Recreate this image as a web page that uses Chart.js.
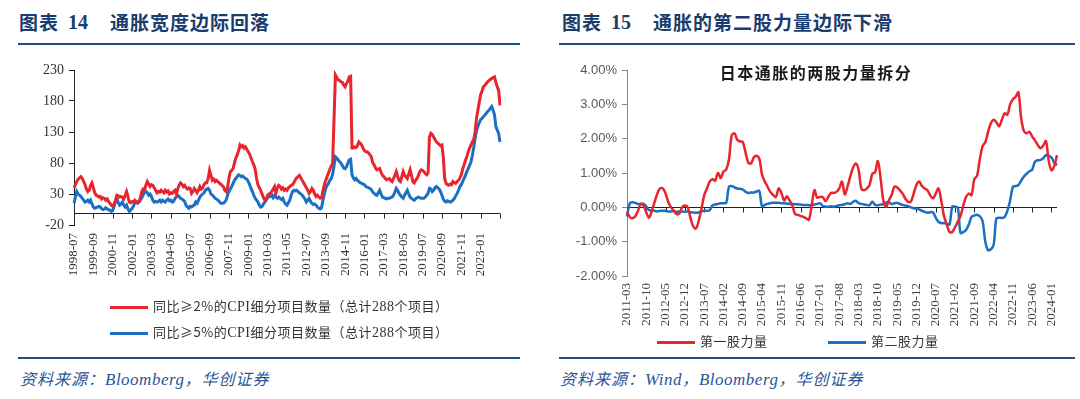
<!DOCTYPE html>
<html><head><meta charset="utf-8">
<script src="https://cdn.jsdelivr.net/npm/chart.js@4.4.1/dist/chart.umd.min.js"></script>
<style>
html,body{margin:0;padding:0;background:#fff;}
body{width:1080px;height:399px;position:relative;overflow:hidden;font-family:"Noto Sans CJK SC",sans-serif;}
.t{position:absolute;top:9px;font-size:19px;font-weight:bold;color:#1a3c6e;letter-spacing:1px;white-space:nowrap;line-height:26px;}
.t.num{font-family:"Liberation Serif",serif;font-size:20px;letter-spacing:0;}
.rule{position:absolute;height:2px;background:#1f4e89;}
.src{position:absolute;top:367px;font-size:16px;font-style:italic;color:#2a5599;white-space:nowrap;line-height:22px;letter-spacing:1px;}
.src .lat{font-family:"Liberation Serif",serif;font-size:17px;letter-spacing:0.5px;}
.leg{position:absolute;font-size:13px;color:#333;white-space:nowrap;line-height:16px;letter-spacing:0.5px;}
.leg i{display:inline-block;width:38px;height:3px;vertical-align:middle;margin-right:5px;}
.leg .lat{font-family:"Liberation Serif",serif;font-size:14px;}
.ctitle{position:absolute;left:640px;width:352px;text-align:center;top:61px;font-size:16px;font-weight:bold;color:#1a1a1a;letter-spacing:1.5px;line-height:22px;}
canvas{position:absolute;}
</style></head>
<body>
<div class="t" style="left:19px">图表</div>
<div class="t num" style="left:68px">14</div>
<div class="t" style="left:110px">通胀宽度边际回落</div>
<div class="rule" style="left:18px;width:502px;top:43px"></div>

<div class="t" style="left:562px">图表</div>
<div class="t num" style="left:611px">15</div>
<div class="t" style="left:653px">通胀的第二股力量边际下滑</div>
<div class="rule" style="left:559px;width:516px;top:43px"></div>

<canvas id="c1" width="530" height="250" style="left:0;top:50px;width:530px;height:250px"></canvas>
<canvas id="c2" width="540" height="290" style="left:540px;top:50px;width:540px;height:290px"></canvas>

<div class="ctitle">日本通胀的两股力量拆分</div>

<div class="leg" style="left:110px;top:298px"><i style="background:#e8242c"></i>同比≥2%的<span class="lat">CPI</span>细分项目数量（总计<span class="lat">288</span>个项目）</div>
<div class="leg" style="left:110px;top:324px"><i style="background:#1b6fc4"></i>同比≥5%的<span class="lat">CPI</span>细分项目数量（总计<span class="lat">288</span>个项目）</div>

<div class="leg" style="left:657px;top:333px"><i style="background:#e8242c"></i>第一股力量</div>
<div class="leg" style="left:828px;top:333px"><i style="background:#1b6fc4"></i>第二股力量</div>

<div class="rule" style="left:18px;width:502px;top:357px"></div>
<div class="rule" style="left:559px;width:516px;top:357px"></div>

<div class="src" style="left:20px">资料来源：<span class="lat">Bloomberg</span>，华创证券</div>
<div class="src" style="left:560px">资料来源：<span class="lat">Wind</span>，<span class="lat">Bloomberg</span>，华创证券</div>

<script>
// ---------- Chart 14 data (monthly, 1998-07 .. 2024-03) ----------
const leftStart = [1998, 7];
const leftCount = 309;
const leftLabelStep = 14;
const countAbove2 = [
40,45,50,54,56,58,55,50,45,38,34,36,
44,48,40,32,28,27,25,26,22,24,23,20,
22,18,15,12,10,14,20,28,27,25,26,24,
22,28,34,26,17,16,18,17,20,18,16,18,
24,34,38,36,44,50,46,42,45,44,40,36,
32,34,33,36,34,32,36,33,35,30,32,31,
34,36,30,38,44,48,46,42,44,40,38,40,
39,31,34,39,36,32,36,42,38,40,45,48,
48,55,68,60,52,54,50,52,50,48,46,44,
42,36,34,40,55,66,68,71,80,88,93,100,
109,106,108,104,106,102,98,94,88,82,77,70,
55,45,40,36,30,24,20,22,28,30,32,34,
38,42,32,40,44,42,38,40,36,38,36,40,
42,44,45,48,53,56,58,60,56,52,48,44,
40,36,31,34,39,36,30,26,28,25,23,24,
35,45,52,58,64,70,75,80,150,222,218,214,
213,211,210,206,203,208,212,219,220,104,104,106,
105,108,114,112,109,104,100,98,98,96,93,90,
80,77,72,69,70,71,65,60,58,55,53,54,
55,52,50,55,60,66,58,52,50,58,66,60,
58,55,62,69,60,50,48,52,55,60,66,69,
68,66,63,61,64,122,128,126,122,118,114,112,
110,108,109,90,55,47,45,44,46,45,50,48,
47,50,52,56,61,70,77,84,90,98,104,109,
114,118,130,152,165,178,190,196,203,205,208,211,
213,215,216,218,219,210,203,197,173];
const countAbove5 = [
15,25,34,30,28,26,23,20,17,18,20,17,
20,14,9,7,8,9,10,9,6,5,6,8,
6,4,4,2,3,10,18,23,16,12,14,17,
12,9,12,6,2,4,7,10,17,17,15,17,
20,24,28,34,34,32,28,30,26,20,17,18,
17,18,20,17,20,18,17,20,22,19,20,17,
18,23,25,28,26,23,22,20,18,12,9,7,
10,9,11,12,17,15,20,25,28,30,32,36,
38,39,36,30,28,26,23,22,20,18,15,15,
15,17,20,28,34,38,42,47,52,55,58,61,
60,58,59,57,55,54,50,45,39,34,28,23,
20,17,12,9,10,14,17,20,24,28,26,28,
24,28,25,23,25,23,21,23,17,14,12,16,
20,28,34,36,35,36,34,32,30,28,25,22,
17,20,23,18,15,13,14,12,9,7,6,8,
20,30,39,44,47,52,55,62,75,90,88,85,
82,80,76,72,71,74,80,85,86,61,56,53,
55,52,50,48,47,46,45,42,41,40,39,37,
33,31,29,28,32,36,30,25,24,23,22,23,
23,24,25,28,33,39,36,31,28,25,23,28,
32,36,30,25,23,21,20,22,24,25,24,23,
23,23,25,28,31,39,38,34,36,40,42,40,
38,34,28,22,18,17,19,18,17,18,20,23,
27,31,36,42,45,50,55,60,66,71,76,82,
92,105,120,132,139,145,150,152,155,157,160,163,
165,168,171,165,158,139,133,128,114];
const leftYTicks = {min:-20, max:230, step:50};

// ---------- Chart 15 data (monthly, 2011-03 .. 2024-03, %) ----------
const rightStart = [2011, 3];
const rightCount = 157;
const rightLabelStep = 7;
const firstForce = [
-0.13,-0.28,-0.32,-0.26,-0.1,0.1,0.05,-0.15,-0.3,-0.1,
0.15,0.4,0.55,0.55,0.4,0.15,0.0,-0.1,-0.2,-0.18,
0.0,0.05,0.0,-0.3,-0.55,-0.62,-0.4,-0.05,0.35,0.55,
0.75,0.82,0.78,1.0,0.85,1.04,1.1,1.4,2.1,2.15,
1.97,1.92,1.9,1.6,1.3,1.28,1.45,1.5,1.42,0.95,
0.75,0.6,0.45,0.36,0.3,0.55,0.42,0.2,0.32,0.2,
0.05,-0.2,-0.22,-0.25,-0.28,-0.32,-0.36,0.05,0.5,0.28,
0.3,0.3,0.18,0.3,0.42,0.42,0.45,0.55,0.75,0.38,
0.6,0.9,1.15,1.28,1.1,0.55,0.5,0.55,0.65,0.98,
1.02,1.35,0.85,0.2,0.02,0.2,0.36,0.6,0.58,0.5,
0.4,0.25,0.16,0.17,0.4,0.65,0.75,0.62,0.55,0.5,
0.35,0.26,0.4,0.55,0.2,-0.25,-0.5,-0.72,-0.72,-0.58,
-0.42,-0.25,0.05,0.3,0.4,0.36,0.82,0.92,1.4,1.78,
1.9,2.2,2.45,2.55,2.48,2.36,2.55,2.74,2.7,3.0,
3.15,3.22,3.35,2.6,2.22,2.16,2.2,2.06,1.95,1.82,
1.72,1.8,1.93,1.35,1.08,1.2,1.52];
const secondForce = [
-0.27,0.12,0.15,0.13,0.1,0.1,0.1,0.02,-0.08,-0.08,
-0.1,-0.12,-0.1,-0.1,-0.1,-0.12,-0.12,-0.11,-0.13,-0.12,
-0.12,-0.13,-0.12,-0.14,-0.15,-0.16,-0.15,-0.12,-0.1,-0.1,
-0.08,0.06,0.08,0.1,0.12,0.12,0.13,0.6,0.62,0.58,
0.55,0.54,0.52,0.45,0.42,0.43,0.43,0.46,0.48,0.02,
0.07,0.1,0.12,0.13,0.13,0.13,0.12,0.12,0.11,0.1,
0.1,0.09,0.09,0.08,0.07,0.07,0.06,0.07,0.08,0.1,
0.12,0.04,0.02,0.02,0.03,0.02,0.04,0.06,0.07,0.09,
0.12,0.1,0.16,0.19,0.12,0.1,0.08,0.07,0.06,0.16,
0.07,0.06,0.08,0.09,0.14,0.16,0.09,0.12,0.13,0.1,
0.07,0.05,0.03,0.0,-0.03,-0.04,-0.06,-0.1,-0.13,-0.16,
-0.14,-0.15,-0.3,-0.42,-0.46,-0.46,-0.48,-0.5,0.02,0.02,
0.0,-0.75,-0.72,-0.66,-0.5,-0.28,-0.24,-0.22,-0.26,-0.4,
-1.0,-1.25,-1.22,-1.1,-0.32,-0.3,-0.31,-0.28,-0.1,0.2,
0.6,0.62,0.65,0.78,0.9,0.98,1.05,1.1,1.33,1.37,
1.38,1.43,1.52,1.5,1.45,1.3,1.23];
const rightYTicks = {min:-2, max:4, step:1};

const RED = '#e8242c', BLUE = '#1b6fc4';

function monthLabels(start, n){
  const out = [];
  let y = start[0], m = start[1];
  for (let i = 0; i < n; i++){
    out.push(y + '-' + String(m).padStart(2,'0'));
    m++; if (m > 12){ m = 1; y++; }
  }
  return out;
}
const leftMonths = monthLabels(leftStart, leftCount);
const rightMonths = monthLabels(rightStart, rightCount);

const zeroAxis = {
  id:'zeroAxis',
  beforeDatasetsDraw(chart, args, o){
    const {ctx, chartArea:a, scales:{x, y}} = chart;
    const y0 = Math.round(y.getPixelForValue(0)) + 0.5;
    ctx.save();
    ctx.strokeStyle = o.color; ctx.lineWidth = 1;
    ctx.beginPath();
    ctx.moveTo(a.left, y0); ctx.lineTo(a.right, y0);
    const n = chart.data.labels.length;
    for (let i = 0; i < n; i += o.step){
      const px = Math.round(x.getPixelForValue(i)) + 0.5;
      ctx.moveTo(px, y0); ctx.lineTo(px, y0 + o.len);
    }
    ctx.stroke();
    ctx.restore();
  }
};

Chart.defaults.animation = false;

new Chart(document.getElementById('c1'), {
  type:'line',
  data:{labels:leftMonths, datasets:[
    {label:'同比≥2%的CPI细分项目数量（总计288个项目）', data:countAbove2, borderColor:RED, borderWidth:3, pointRadius:0, tension:0, fill:false},
    {label:'同比≥5%的CPI细分项目数量（总计288个项目）', data:countAbove5, borderColor:BLUE, borderWidth:3, pointRadius:0, tension:0, fill:false}
  ]},
  options:{
    responsive:false, devicePixelRatio:1,
    layout:{padding:{top:20, right:30, left:0, bottom:0}},
    plugins:{legend:{display:false}, tooltip:{enabled:false}, zeroAxis:{step:leftLabelStep, color:'#222', len:5}},
    scales:{
      x:{ticks:{autoSkip:false, maxRotation:90, minRotation:90, padding:8,
                font:{family:'Liberation Serif', size:13}, color:'#333',
                callback:(v,i)=> (i % leftLabelStep === 0 && i < leftCount - 1) ? leftMonths[i] : ''},
         grid:{display:false, drawTicks:false}, border:{display:false},
         afterFit:s=>{s.height = 75;}},
      y:{min:leftYTicks.min, max:leftYTicks.max,
         ticks:{stepSize:leftYTicks.step, padding:5, font:{family:'Liberation Serif', size:14}, color:'#333'},
         grid:{drawOnChartArea:false, drawTicks:true, tickLength:5, color:'#222'},
         border:{display:true, color:'#222'},
         afterFit:s=>{s.width = 74;}}
    }
  },
  plugins:[zeroAxis]
});

new Chart(document.getElementById('c2'), {
  type:'line',
  data:{labels:rightMonths, datasets:[
    {label:'第一股力量', data:firstForce, borderColor:RED, borderWidth:2.5, pointRadius:0, tension:0.35, fill:false},
    {label:'第二股力量', data:secondForce, borderColor:BLUE, borderWidth:2.5, pointRadius:0, tension:0.35, fill:false}
  ]},
  options:{
    responsive:false, devicePixelRatio:1,
    layout:{padding:{top:20, right:23, left:0, bottom:0}},
    plugins:{legend:{display:false}, tooltip:{enabled:false}, zeroAxis:{step:rightLabelStep, color:'#222', len:5}},
    scales:{
      x:{ticks:{autoSkip:false, maxRotation:90, minRotation:90, padding:7,
                font:{family:'Liberation Serif', size:13}, color:'#404040',
                callback:(v,i)=> (i % rightLabelStep === 0) ? rightMonths[i] : ''},
         grid:{display:false, drawTicks:false}, border:{display:false},
         afterFit:s=>{s.height = 64;}},
      y:{min:rightYTicks.min, max:rightYTicks.max,
         ticks:{stepSize:rightYTicks.step, padding:5, font:{family:'Liberation Sans', size:13}, color:'#595959',
                callback:v=> v.toFixed(2) + '%'},
         grid:{drawOnChartArea:false, drawTicks:true, tickLength:5, color:'#888'},
         border:{display:true, color:'#888'},
         afterFit:s=>{s.width = 87;}}
    }
  },
  plugins:[zeroAxis]
});
</script>
</body></html>
